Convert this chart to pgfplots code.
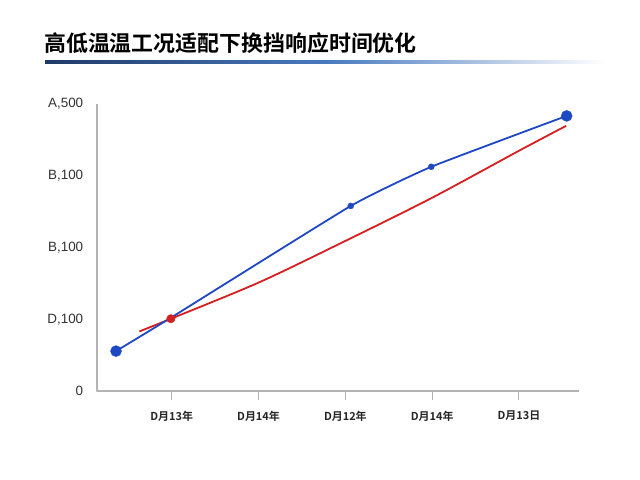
\documentclass[border=0pt]{standalone}
\usepackage{pgfplots}
\pgfplotsset{compat=1.18}
\usepackage{fontspec}
\setmainfont{Liberation Sans}
\newfontfamily\cjk{Noto Sans CJK SC}[BoldFont={Noto Sans CJK SC Bold}]
\definecolor{blueL}{HTML}{1F48C4}
\definecolor{redL}{HTML}{D42020}
\definecolor{axgray}{HTML}{B4B4B4}
\definecolor{navy}{HTML}{1F3A68}
\definecolor{midblue}{HTML}{4A7BBF}
\begin{document}
\begin{tikzpicture}[x=1bp,y=1bp]
\path[fill=white] (0,0) rectangle (640,480);
\node[anchor=west,inner sep=0pt,font=\cjk\bfseries\fontsize{22}{24}\selectfont] at (44,437) {高低温温工况适配下换挡响应时间优化};
\shade[left color=navy,right color=midblue] (45,416.5) rectangle (330,419.5);
\shade[left color=midblue,right color=white] (330,416.5) rectangle (605,419.5);
\begin{axis}[
  at={(97bp,89bp)}, anchor=south west,
  scale only axis, width=482bp, height=287bp,
  xmin=0.139, xmax=5.692, ymin=0, ymax=4,
  axis lines=left, axis line style={axgray,line width=1.1pt,-},
  xtick={1,2,3,4,5},
  xticklabels={D月13年,D月14年,D月12年,D月14年,D月13日},
  ytick={0,1,2,3,4},
  yticklabels={0,D{,}100,B{,}100,B{,}100,A{,}500},
  x tick label style={font=\cjk\bfseries\fontsize{11}{12}\selectfont,text=black!85,yshift=-12bp},
  y tick label style={font=\fontsize{13.5}{15}\selectfont,text=black!80,xshift=-6bp},
  xtick style={axgray,line width=1pt},
  ytick style={axgray!60,line width=0.6pt},
  tick align=outside,
  x tick style={/pgfplots/major tick length=9bp},
  y tick style={/pgfplots/major tick length=1.5bp},
  clip=false,
]
\addplot[redL,line width=1.8bp,smooth,tension=0.5] coordinates {
 (0.627,0.830) (0.99,1.007) (2.01,1.516) (3.008,2.096) (4.007,2.698) (5.0,3.348) (5.543,3.695)
};
\addplot[blueL,line width=1.8bp,smooth,tension=0.25] coordinates {
 (0.358,0.556) (0.99,1.021) (3.062,2.579) (3.99,3.125) (5.55,3.834)
};
\addplot[only marks,mark=*,mark size=5.5bp,blueL] coordinates {(0.358,0.556) (5.55,3.834)};
\addplot[only marks,mark=*,mark size=3bp,blueL] coordinates {(3.062,2.579) (3.99,3.125)};
\addplot[only marks,mark=*,mark size=4.2bp,redL] coordinates {(0.99,1.007)};
\end{axis}
\end{tikzpicture}
\end{document}
